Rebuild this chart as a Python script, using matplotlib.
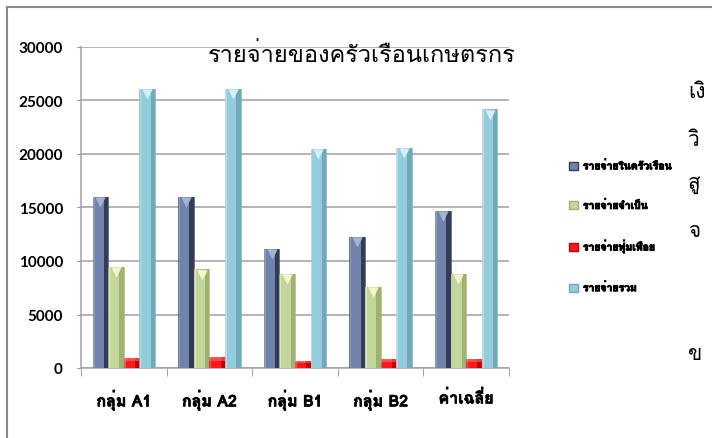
import matplotlib
matplotlib.use("Agg")
import matplotlib.pyplot as plt
import matplotlib.transforms as mtransforms
import matplotlib.patheffects as pe
from matplotlib import font_manager
from matplotlib.ft2font import FT2Font
from matplotlib.lines import Line2D
from matplotlib.patches import Patch
import numpy as np

# ---- data ------------------------------------------------------------------
categories = ["กลุ่ม A1", "กลุ่ม A2", "กลุ่ม B1", "กลุ่ม B2", "ค่าเฉลี่ย"]
series_names = ["รายจ่ายในครัวเรือน", "รายจ่ายจำเป็น", "รายจ่ายฟุ่มเฟือย", "รายจ่ายรวม"]
household = [16000, 16000, 11150, 12250, 14700]
necessary = [9450, 9250, 8800, 7600, 8800]
luxury = [900, 1000, 650, 850, 850]
total = [26100, 26100, 20500, 20600, 24200]
values = [household, necessary, luxury, total]
yticks = [0, 5000, 10000, 15000, 20000, 25000, 30000]
title = "รายจ่ายของครัวเรือนเกษตรกร"
stray = ["เงิ", "วิ", "สู", "จ", "ข"]

face = ["#6f83ab", "#c4d79b", "#ff1a1a", "#93cddd"]
side = ["#323d55", "#9fb273", "#c00000", "#73a8b8"]
tip = ["#a3b3d6", "#f4f8c8", "#ff8080", "#d2f1fa"]


def thai_font():
    for f in font_manager.fontManager.ttflist:
        try:
            if 0x0E23 in FT2Font(f.fname).get_charmap():
                return f.name
        except Exception:
            pass
    return "DejaVu Sans"


thai = thai_font()
plt.rcParams["font.family"] = [thai, "DejaVu Sans"]
thick = [pe.withStroke(linewidth=0.7, foreground="black")]

fig = plt.figure(figsize=(7.12, 4.39), dpi=100)
ax = fig.add_axes([81 / 712, 1 - 369 / 439, 428 / 712, 321 / 439])

x = np.arange(len(categories))
w = 0.182
for j, vals in enumerate(values):
    xs = x + (j - 1.5) * w
    ax.bar(xs, vals, w, color=face[j], edgecolor=side[j], linewidth=0.4, zorder=3)
    ax.bar(xs + w * 0.36, vals, w * 0.28, color=side[j], linewidth=0, zorder=4)
    ax.bar(xs - w * 0.43, vals, w * 0.1, color=tip[j], linewidth=0, alpha=0.5, zorder=4)
    if j != 2:
        off = mtransforms.offset_copy(ax.transData, fig=fig, x=0, y=-5.5, units="dots")
        ax.scatter(xs, vals, marker="v", s=55, color=tip[j], linewidths=0,
                   transform=off, zorder=5)
    else:
        ax.bar(xs, np.array(vals) * 0.3, w, bottom=np.array(vals) * 0.7,
               color=tip[j], linewidth=0, alpha=0.5, zorder=4)

ax.set_xlim(-0.5, len(categories) - 0.5)
ax.set_ylim(0, 30000)
ax.set_yticks(yticks)
ax.set_yticklabels([str(v) for v in yticks], family=["Lato", "DejaVu Sans"],
                   fontsize=11, fontweight="bold")
ax.set_xticks(x)
ax.set_xticklabels(categories, fontsize=11.5, fontweight="bold")
for t in ax.get_xticklabels():
    t.set_path_effects([pe.withStroke(linewidth=0.5, foreground="black")])
ax.set_xticks(np.arange(len(categories) + 1) - 0.5, minor=True)
ax.tick_params(axis="x", which="major", length=0, pad=16)
ax.tick_params(axis="x", which="minor", length=6, color="#909090")
ax.tick_params(axis="y", length=3, color="#909090", pad=10)
ax.grid(axis="y", color="#a0a0a0", linewidth=1.1, zorder=0)
for s in ["top", "right"]:
    ax.spines[s].set_visible(False)
for s in ["left", "bottom"]:
    ax.spines[s].set_color("#a0a0a0")
    ax.spines[s].set_linewidth(1.1)

fig.text(362 / 712, 1 - 55 / 439, title, ha="center", va="center", fontsize=17)

handles = [Patch(facecolor=face[j], edgecolor=side[j]) for j in range(4)]
leg = fig.legend(handles, series_names, loc="upper left",
                 bbox_to_anchor=(560 / 712, 1 - 152 / 439), frameon=False,
                 prop={"size": 7.5, "weight": "bold"}, labelspacing=2.75,
                 handlelength=0.8, handleheight=0.8, handletextpad=0.5)
for t in leg.get_texts():
    t.set_path_effects(thick)

for k, yy in enumerate([92, 140, 185, 232, 355]):
    fig.text(688 / 712, 1 - yy / 439, stray[k], ha="left", va="center", fontsize=15)

fig.add_artist(Line2D([7 / 712, 1], [1 - 8 / 439] * 2, color="#8a8a8a", lw=1.5))
fig.add_artist(Line2D([7 / 712] * 2, [1 - 8 / 439, 0], color="#8a8a8a", lw=1.5))

fig.savefig("out.png", dpi=100)
